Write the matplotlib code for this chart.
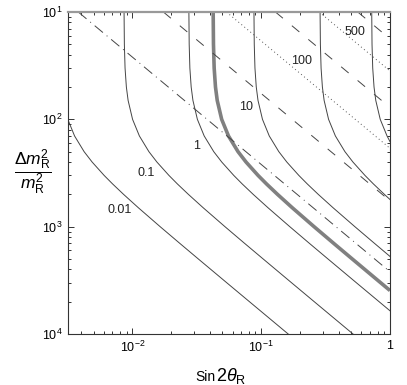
import numpy as np
import matplotlib.pyplot as plt
from matplotlib.ticker import FixedLocator, FixedFormatter, LogLocator, NullFormatter

plt.rcParams['font.family'] = 'Liberation Sans'
plt.rcParams['mathtext.fontset'] = 'custom'
plt.rcParams['mathtext.rm'] = 'Liberation Sans'
plt.rcParams['mathtext.it'] = 'Liberation Sans:italic'

# curvas de nivel (sin2theta, dm2/m2)
y_curve = [0.1, 0.05, 0.03, 0.02, 0.015, 0.01, 0.007, 0.005, 0.004, 0.003,
           0.0025, 0.002, 0.0015, 0.001, 0.0007, 0.0005, 0.0003, 0.0002, 0.0001]

x_001 = [0.00315, 0.003556, 0.004217, 0.004868, 0.006037, 0.00702, 0.008538,
         0.01113, 0.01642, 0.0233, 0.03251, 0.05407, 0.08105, 0.162]
y_001 = y_curve[5:]

x_01 = [0.008615, 0.008662, 0.00877, 0.008978, 0.009262, 0.01003, 0.01133, 0.01343,
        0.0155, 0.01923, 0.02236, 0.0272, 0.03546, 0.05231, 0.07421, 0.1036,
        0.1722, 0.2581, 0.5161]
y_01 = y_curve

x_1 = [0.02745, 0.0276, 0.02794, 0.0286, 0.02951, 0.03195, 0.03609, 0.0428, 0.0494,
       0.06127, 0.07124, 0.08665, 0.113, 0.1667, 0.2364, 0.33, 0.5487, 1.0]
y_1 = y_curve[:17] + [1.645e-4]

x_thick = [0.04238, 0.0426, 0.04314, 0.04416, 0.04556, 0.04933, 0.05571, 0.06607,
           0.07626, 0.09459, 0.11, 0.1338, 0.1744, 0.2573, 0.365, 0.5094, 0.847, 1.0]
y_thick = y_curve[:17] + [2.54e-4]

x_10 = [0.08786, 0.08833, 0.08944, 0.09156, 0.09445, 0.1023, 0.1155, 0.137, 0.1581,
        0.1961, 0.228, 0.2773, 0.3616, 0.5335, 0.7568, 1.0]
y_10 = y_curve[:15] + [5.28e-4]

x_100 = [0.2865, 0.2881, 0.2917, 0.2986, 0.308, 0.3335, 0.3767, 0.4467, 0.5156,
         0.6395, 0.7436, 0.9044, 1.0]
y_100 = y_curve[:12] + [1.79e-3]

x_500 = [0.7213, 0.7252, 0.7343, 0.7517, 0.7754, 0.8397, 0.9483, 1.0]
y_500 = y_curve[:7] + [6.2e-3]

# rectas de pendiente -1: extremos (x_ini, x_fin), (y_ini, y_fin)
x_dashdot = [0.0038, 1.0]
y_dashdot = [0.1, 3.8e-4]
x_dash1 = [0.0174, 1.0]
y_dash1 = [0.1, 1.74e-3]
x_dot1 = [0.0537, 1.0]
y_dot1 = [0.1, 5.37e-3]
x_dash2 = [0.129, 1.0]
y_dash2 = [0.1, 0.0129]
x_dot2 = [0.282, 1.0]
y_dot2 = [0.1, 0.0282]
x_dash3 = [0.562, 1.0]
y_dash3 = [0.1, 0.0562]

# etiquetas de las curvas y su posicion
labels = ['0.01', '0.1', '1', '10', '100', '500']
lab_x = [0.0080, 0.0129, 0.0316, 0.076, 0.207, 0.535]
lab_y = [1.43e-3, 3.16e-3, 5.65e-3, 0.0130, 0.035, 0.065]

fig = plt.figure(figsize=(4.07, 3.85), dpi=100)
ax = fig.add_axes([68/407, 51/385, 322/407, 322/385])

thin = dict(color='#444444', linewidth=0.7)
for xs, ys in [(x_001, y_001), (x_01, y_01), (x_1, y_1), (x_10, y_10),
               (x_100, y_100), (x_500, y_500)]:
    ax.plot(xs, ys, **thin)
ax.plot(x_thick, y_thick, color='#808080', linewidth=2.6, solid_capstyle='butt')

ax.plot(x_dashdot, y_dashdot, color='#444444', linewidth=0.7, dashes=(11, 5, 1, 5))
for xs, ys in [(x_dash1, y_dash1), (x_dash2, y_dash2), (x_dash3, y_dash3)]:
    ax.plot(xs, ys, color='#444444', linewidth=0.7, dashes=(10, 12))
for xs, ys in [(x_dot1, y_dot1), (x_dot2, y_dot2)]:
    ax.plot(xs, ys, color='#555555', linewidth=0.7, dashes=(1, 3))

ax.set_xscale('log')
ax.set_yscale('log')
ax.set_xlim(10**-2.5, 1)
ax.set_ylim(1e-4, 1e-1)

ax.xaxis.set_major_locator(FixedLocator([0.01, 0.1, 1]))
ax.xaxis.set_major_formatter(FixedFormatter([r'$10^{-2}$', r'$10^{-1}$', '1']))
ax.yaxis.set_major_locator(FixedLocator([1e-4, 1e-3, 1e-2, 1e-1]))
ax.yaxis.set_major_formatter(FixedFormatter([r'$10^{4}$', r'$10^{3}$', r'$10^{2}$', r'$10^{1}$']))
ax.xaxis.set_minor_locator(LogLocator(base=10, subs=np.arange(2, 10)))
ax.yaxis.set_minor_locator(LogLocator(base=10, subs=np.arange(2, 10)))
ax.xaxis.set_minor_formatter(NullFormatter())
ax.yaxis.set_minor_formatter(NullFormatter())

ax.tick_params(which='both', direction='in', top=True, right=True, labelsize=9,
               color='#333333', width=0.7)
ax.tick_params(which='major', length=4.5, pad=4)
ax.tick_params(which='minor', length=2.5)
for s in ['left', 'bottom', 'right']:
    ax.spines[s].set_color('#333333')
    ax.spines[s].set_linewidth(0.8)
ax.spines['top'].set_color('#999999')
ax.spines['top'].set_linewidth(1.6)

for t, lx, ly in zip(labels, lab_x, lab_y):
    ax.text(lx, ly, t, fontsize=9, color='#222222', ha='center', va='center')

fig.text(33/407, 1 - 172/385, r'$\dfrac{\Delta m_{\mathrm{R}}^{2}}{m_{\mathrm{R}}^{2}}$',
         fontsize=12.5, ha='center', va='center')
fig.text(195/407, 1 - 381/385, 'Sin', fontsize=10, ha='left', va='baseline')
fig.text(216/407, 1 - 381/385, r'$2\theta_{\mathrm{R}}$', fontsize=13, ha='left', va='baseline')

fig.savefig('out.png', dpi=100)
